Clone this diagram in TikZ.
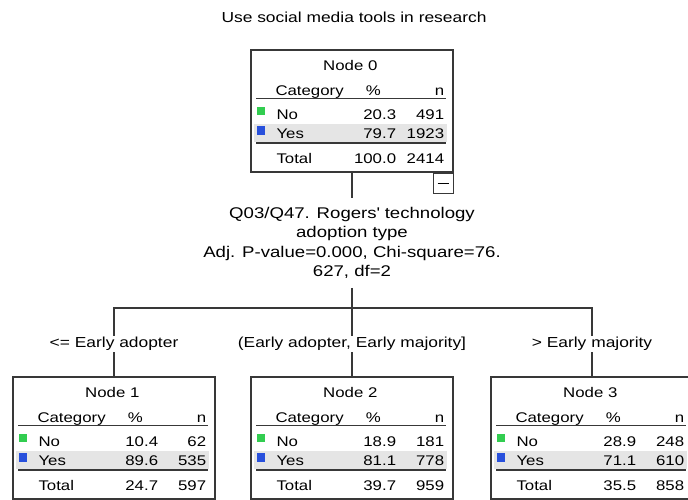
\documentclass[tikz,border=0pt]{standalone}
\usepackage{fontspec}
\setmainfont{Liberation Sans}[FakeStretch = 1.2]
\usepackage{tikz}
\usetikzlibrary{positioning}

\definecolor{boxgrey}{gray}{0.22}
\definecolor{bandgrey}{gray}{0.9}
\definecolor{nogreen}{RGB}{50, 205, 80}
\definecolor{yesblue}{RGB}{40, 80, 220}

\tikzstyle{tree} = [rectangle, draw = boxgrey, line width = 1.4,
  minimum width = 202, minimum height = 122, inner sep = 0]
\tikzstyle{cell} = [inner sep = 0, font = \fontsize{14}{17}\selectfont]
\tikzstyle{rule} = [draw = boxgrey, line width = 1.1]
\tikzstyle{edge} = [draw = boxgrey, line width = 1.2]
\tikzstyle{cond} = [
  fill = white, inner sep = 1, yshift = -2,
  font = \fontsize{14.5}{17}\selectfont
]
\tikzstyle{split} = [inner sep = 0, outer ysep = 9, align = center,
  font = \fontsize{15.5}{19.5}\selectfont]
\tikzstyle{minus} = [rectangle, draw = boxgrey, line width = 1,
  minimum size = 20, inner sep = 0]

% table inside a tree node: name, title, No %, No n, Yes %, Yes n, Total %, Total n
\newcommand{\nodetable}[8]{%
  \begin{scope}[shift = {(#1.north west)}]
    \fill [bandgrey] (4, 75) rectangle (197, 93);
    \node [cell, anchor = base] (#1-title) at (100, 21) {#2};
    \node [cell, anchor = base west] (#1-cat) at (25, 46) {Category};
    \node [cell, anchor = base] (#1-pct) at (123, 46) {\%};
    \node [cell, anchor = base east] (#1-n) at (194, 46) {n};
    \draw [rule] (6, 49) -- (196, 49);
    \fill [nogreen] (7, 58) rectangle (15, 66);
    \node [cell, anchor = base west] (#1-no) at (26, 70) {No};
    \node [cell, anchor = base east] (#1-no-pct) at (146, 70) {#3};
    \node [cell, anchor = base east] (#1-no-n) at (194, 70) {#4};
    \fill [yesblue] (7, 77) rectangle (15, 86);
    \node [cell, anchor = base west] (#1-yes) at (26, 89) {Yes};
    \node [cell, anchor = base east] (#1-yes-pct) at (146, 89) {#5};
    \node [cell, anchor = base east] (#1-yes-n) at (194, 89) {#6};
    \draw [rule, line width = 1.8] (6, 94) -- (196, 94);
    \node [cell, anchor = base west] (#1-total) at (26, 114) {Total};
    \node [cell, anchor = base east] (#1-total-pct) at (146, 114) {#7};
    \node [cell, anchor = base east] (#1-total-n) at (194, 114) {#8};
  \end{scope}}

\begin{document}
\begin{tikzpicture}[x = 1pt, y = -1pt, node distance = 0]
      \useasboundingbox (0, 0) rectangle (688, 500);
      \node [cell, font = \fontsize{14.5}{17}\selectfont, anchor = base]
        (title) at (354, 23) {Use social media tools in research};
      % 0
      \node [tree] (node-0) at (352, 111) {};
      \nodetable{node-0}{Node 0}{20.3}{491}{79.7}{1923}{100.0}{2414}
      \node [minus, anchor = north east] (minus-0) at (node-0.south east)
        {\rule{11pt}{1.1pt}};
      % split
      \node [split, below of = node-0, yshift = -132] (split)
        {Q03/Q47. Rogers\textquotesingle\ technology\\adoption type\\
         Adj. P-value=0.000, Chi-square=76.\\627, df=2};
      \coordinate [below of = split, yshift = -65] (fork);
      % 1, 2, 3
      \node [tree, below of = node-0, yshift = -327] (node-2) {};
      \node [tree, left of = node-2, xshift = -238] (node-1) {};
      \node [tree, right of = node-2, xshift = 240] (node-3) {};
      \nodetable{node-1}{Node 1}{10.4}{62}{89.6}{535}{24.7}{597}
      \nodetable{node-2}{Node 2}{18.9}{181}{81.1}{778}{39.7}{959}
      \nodetable{node-3}{Node 3}{28.9}{248}{71.1}{610}{35.5}{858}

      \draw [edge] (node-0) -- (split);
      \draw [edge] (split) -- (fork);
      \draw [edge] (fork) -| node [cond, pos = 0.75] (cond-1) {<= Early adopter} (node-1);
      \draw [edge] (fork) -- node [cond] (cond-2) {(Early adopter, Early majority]} (node-2);
      \draw [edge] (fork) -| node [cond, pos = 0.75] (cond-3) {> Early majority} (node-3);
    \end{tikzpicture}
\end{document}
